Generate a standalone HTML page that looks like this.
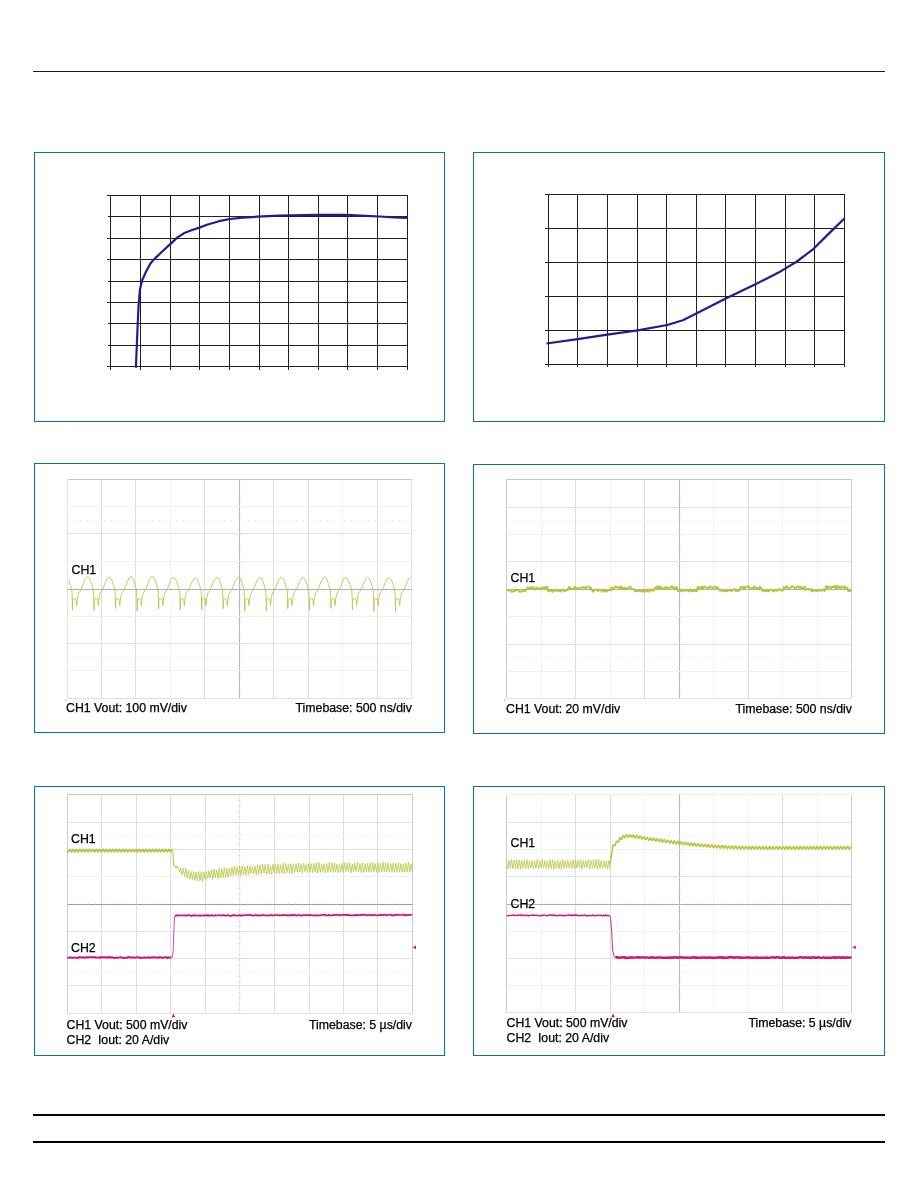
<!DOCTYPE html>
<html lang="en">
<head>
<meta charset="utf-8">
<title>Typical performance curves</title>
<style>
html,body{margin:0;padding:0;background:#fff}
body{width:918px;height:1188px;position:relative;overflow:hidden;font-family:"Liberation Sans",sans-serif;color:#111}
.rule{position:absolute;left:33px;width:852px;background:#000}
.panel{position:absolute;box-sizing:border-box;border:1px solid #0a70a8;background:#fff}
svg{position:absolute;left:0;top:0;display:block}
.t{position:absolute;font-size:12.3px;line-height:14px;white-space:pre;color:#000;-webkit-text-stroke:0.25px #000}
.r{text-align:right}
</style>
</head>
<body>
<div class="rule" style="top:71px;height:1px;background:#1a1a1a"></div>
<div class="rule" style="top:1114px;height:2px"></div>
<div class="rule" style="top:1141px;height:2px"></div>

<div class="panel" style="left:34px;top:152px;width:411px;height:270px">
<svg width="409" height="268" viewBox="35 153 409 268">
<g fill="#231f20" shape-rendering="crispEdges"><rect x="110" y="195" width="1" height="175"/><rect x="140" y="195" width="1" height="175"/><rect x="170" y="195" width="1" height="175"/><rect x="199" y="195" width="1" height="175"/><rect x="229" y="195" width="1" height="175"/><rect x="259" y="195" width="1" height="175"/><rect x="288" y="195" width="1" height="175"/><rect x="318" y="195" width="1" height="175"/><rect x="347" y="195" width="1" height="175"/><rect x="377" y="195" width="1" height="175"/><rect x="407" y="195" width="1" height="175"/><rect x="107" y="195" width="301" height="1"/><rect x="108" y="216" width="300" height="1"/><rect x="107" y="238" width="301" height="1"/><rect x="107" y="259" width="301" height="1"/><rect x="108" y="281" width="300" height="1"/><rect x="107" y="302" width="301" height="1"/><rect x="108" y="323" width="300" height="1"/><rect x="108" y="345" width="300" height="1"/><rect x="107" y="366" width="301" height="1"/></g>
<path d="M135.9 367.8 L136.7 348 L137.6 326.6 L138.6 305.1 L140 289.4 L141.9 280.8 L146.5 270.8 L150.8 262.9 L154.3 259.1 L162.2 251.5 L170.8 243.6 L177.2 237.6 L183.7 233.3 L192.2 230 L199.4 227.6 L207 224.8 L219 221.2 L229.8 219 L243 217.7 L257.3 216.7 L279 215.7 L317 214.8 L346 214.8 L360.5 215.6 L379.6 216.5 L394 217.4 L407.5 217.8" fill="none" stroke="#1e1e8c" stroke-width="2.2" stroke-linejoin="round"/>
</svg>
</div>
<div class="panel" style="left:473px;top:152px;width:412px;height:270px">
<svg width="410" height="268" viewBox="474 153 410 268">
<g fill="#231f20" shape-rendering="crispEdges"><rect x="548" y="194" width="1" height="173"/><rect x="577" y="194" width="1" height="173"/><rect x="607" y="194" width="1" height="173"/><rect x="637" y="194" width="1" height="173"/><rect x="666" y="194" width="1" height="173"/><rect x="696" y="194" width="1" height="173"/><rect x="725" y="194" width="1" height="173"/><rect x="755" y="194" width="1" height="173"/><rect x="785" y="194" width="1" height="173"/><rect x="814" y="194" width="1" height="173"/><rect x="844" y="194" width="1" height="173"/><rect x="545" y="194" width="300" height="1"/><rect x="545" y="228" width="300" height="1"/><rect x="545" y="262" width="300" height="1"/><rect x="545" y="296" width="300" height="1"/><rect x="545" y="330" width="300" height="1"/><rect x="545" y="364" width="300" height="1"/></g>
<path d="M546.5 343.5 L577.6 339.1 L607.3 334.6 L637.6 330.3 L667.2 325 L682.9 320.2 L696.8 313.3 L725.8 298.6 L755.4 284.3 L780.5 271.4 L796.2 262 L813.6 248.8 L829.3 233.1 L844.6 218.2" fill="none" stroke="#1e1e8c" stroke-width="2.2" stroke-linejoin="round"/>
</svg>
</div>
<div class="panel" style="left:34px;top:463px;width:411px;height:270px">
<svg width="409" height="268" viewBox="35 464 409 268">
<g stroke-width="1" fill="none"><line x1="67.5" y1="479.5" x2="67.5" y2="698.5" stroke="#e2e2e2"/><line x1="101.5" y1="479.5" x2="101.5" y2="698.5" stroke="#dedede"/><line x1="135.5" y1="479.5" x2="135.5" y2="698.5" stroke="#dedede"/><line x1="170.5" y1="479.5" x2="170.5" y2="698.5" stroke="#f3f3f3"/><line x1="204.5" y1="479.5" x2="204.5" y2="698.5" stroke="#dedede"/><line x1="239.5" y1="479.5" x2="239.5" y2="698.5" stroke="#b6b6b6"/><line x1="273.5" y1="479.5" x2="273.5" y2="698.5" stroke="#dedede"/><line x1="308.5" y1="479.5" x2="308.5" y2="698.5" stroke="#dedede"/><line x1="342.5" y1="479.5" x2="342.5" y2="698.5" stroke="#f3f3f3"/><line x1="377.5" y1="479.5" x2="377.5" y2="698.5" stroke="#dedede"/><line x1="411.5" y1="479.5" x2="411.5" y2="698.5" stroke="#e2e2e2"/><line x1="67.5" y1="479.5" x2="411.5" y2="479.5" stroke="#c6c6c6"/><line x1="67.5" y1="506.5" x2="411.5" y2="506.5" stroke="#f1f1f1"/><line x1="67.5" y1="533.5" x2="411.5" y2="533.5" stroke="#e0e0e0"/><line x1="67.5" y1="561.5" x2="411.5" y2="561.5" stroke="#f1f1f1"/><line x1="67.5" y1="589.5" x2="411.5" y2="589.5" stroke="#b0b0b0"/><line x1="67.5" y1="616.5" x2="411.5" y2="616.5" stroke="#f1f1f1"/><line x1="67.5" y1="643.5" x2="411.5" y2="643.5" stroke="#e0e0e0"/><line x1="67.5" y1="670.5" x2="411.5" y2="670.5" stroke="#f1f1f1"/><line x1="67.5" y1="698.5" x2="411.5" y2="698.5" stroke="#e0e0e0"/><line x1="73.5" y1="520.5" x2="405.5" y2="520.5" stroke="#f2f2f2" stroke-dasharray="3 3"/><line x1="73.5" y1="657.5" x2="405.5" y2="657.5" stroke="#f2f2f2" stroke-dasharray="3 3"/><line x1="239.5" y1="479.5" x2="239.5" y2="698.5" stroke="#c8c8c8" stroke-width="2.2" stroke-dasharray="0.8 4.7"/><line x1="67.5" y1="589.5" x2="411.5" y2="589.5" stroke="#c4c4c4" stroke-width="2.2" stroke-dasharray="0.8 6.1"/></g>
<circle cx="65.7" cy="700.1" r="0.9" fill="#c3cf5a"/>
<path d="M68.9 580.1 L70.6 585.7 L71.8 589.6 L72.2 596 L72.5 610.2 L72.8 600 L73.2 599 L74.6 598.6 L76.1 599.2 L76.7 605.6 L77.4 599 L78 595.5 L78.7 593 L80 591.4 L82 587.4 L84.6 580.2 L86.2 577.6 L87.5 576.8 L89 577.8 L90.4 580.3 L92.1 585.7 L93.3 589.6 L93.7 596 L94 610.4 L94.3 600 L94.7 599 L96.1 598.6 L97.6 599.2 L98.3 605.6 L98.9 599 L99.6 595.5 L100.2 593 L101.5 591.4 L103.5 587.4 L106.1 580.4 L107.7 577.8 L109 577.2 L110.5 578.2 L112 580.7 L113.6 585.7 L114.8 589.6 L115.3 596 L115.6 608.5 L115.9 600 L116.2 599 L117.6 598.6 L119.1 599.2 L119.8 605.6 L120.4 599 L121.1 595.5 L121.7 593 L123 591.4 L125.1 587.4 L127.7 580.8 L129.3 578.2 L130.6 576.2 L132.1 577.2 L133.5 579.7 L135.1 585.7 L136.4 589.6 L136.8 596 L137.1 611.2 L137.4 600 L137.8 599 L139.2 598.6 L140.7 599.2 L141.3 605.6 L142 599 L142.6 595.5 L143.3 593 L144.6 591.4 L146.6 587.4 L149.2 579.8 L150.8 577.2 L152.1 576.6 L153.6 577.6 L155 580.1 L156.7 585.7 L157.9 589.6 L158.3 596 L158.6 609.1 L158.9 600 L159.3 599 L160.7 598.6 L162.2 599.2 L162.9 605.6 L163.5 599 L164.1 595.5 L164.8 593 L166.1 591.4 L168.1 587.4 L170.7 580.2 L172.3 577.6 L173.6 577.8 L175.1 578.8 L176.6 581.3 L178.2 585.7 L179.4 589.6 L179.9 596 L180.2 609.9 L180.5 600 L180.8 599 L182.2 598.6 L183.7 599.2 L184.4 605.6 L185 599 L185.7 595.5 L186.3 593 L187.6 591.4 L189.7 587.4 L192.3 581.4 L193.9 578.8 L195.2 577.5 L196.7 578.5 L198.1 581 L199.7 585.7 L201 589.6 L201.4 596 L201.7 610 L202 600 L202.3 599 L203.8 598.6 L205.3 599.2 L205.9 605.6 L206.6 599 L207.2 595.5 L207.9 593 L209.1 591.4 L211.2 587.4 L213.8 581.1 L215.4 578.5 L216.7 577.2 L218.2 578.2 L219.6 580.7 L221.3 585.7 L222.5 589.6 L222.9 596 L223.2 608.8 L223.5 600 L223.9 599 L225.3 598.6 L226.8 599.2 L227.4 605.6 L228.1 599 L228.7 595.5 L229.4 593 L230.7 591.4 L232.7 587.4 L235.3 580.8 L236.9 578.2 L238.2 577.2 L239.7 578.2 L241.2 580.7 L242.8 585.7 L244 589.6 L244.5 596 L244.8 611.3 L245.1 600 L245.4 599 L246.8 598.6 L248.3 599.2 L249 605.6 L249.6 599 L250.3 595.5 L250.9 593 L252.2 591.4 L254.2 587.4 L256.9 580.8 L258.4 578.2 L259.7 577 L261.2 578 L262.7 580.5 L264.3 585.7 L265.6 589.6 L266 596 L266.3 610.9 L266.6 600 L266.9 599 L268.4 598.6 L269.9 599.2 L270.5 605.6 L271.2 599 L271.8 595.5 L272.4 593 L273.7 591.4 L275.8 587.4 L278.4 580.6 L280 578 L281.3 577.3 L282.8 578.3 L284.2 580.8 L285.9 585.7 L287.1 589.6 L287.5 596 L287.8 608.5 L288.1 600 L288.5 599 L289.9 598.6 L291.4 599.2 L292 605.6 L292.7 599 L293.3 595.5 L294 593 L295.3 591.4 L297.3 587.4 L299.9 580.9 L301.5 578.3 L302.8 577.4 L304.3 578.4 L305.7 580.9 L307.4 585.7 L308.6 589.6 L309 596 L309.3 610.4 L309.6 600 L310 599 L311.4 598.6 L312.9 599.2 L313.6 605.6 L314.2 599 L314.9 595.5 L315.5 593 L316.8 591.4 L318.8 587.4 L321.4 581 L323 578.4 L324.3 576.7 L325.8 577.7 L327.3 580.2 L328.9 585.7 L330.1 589.6 L330.6 596 L330.9 608.4 L331.2 600 L331.5 599 L332.9 598.6 L334.4 599.2 L335.1 605.6 L335.7 599 L336.4 595.5 L337 593 L338.3 591.4 L340.4 587.4 L343 580.3 L344.6 577.7 L345.9 577.6 L347.4 578.6 L348.8 581.1 L350.4 585.7 L351.7 589.6 L352.1 596 L352.4 610 L352.7 600 L353.1 599 L354.5 598.6 L356 599.2 L356.6 605.6 L357.3 599 L357.9 595.5 L358.6 593 L359.9 591.4 L361.9 587.4 L364.5 581.2 L366.1 578.6 L367.4 577.4 L368.9 578.4 L370.3 580.9 L372 585.7 L373.2 589.6 L373.6 596 L373.9 611.4 L374.2 600 L374.6 599 L376 598.6 L377.5 599.2 L378.2 605.6 L378.8 599 L379.4 595.5 L380.1 593 L381.4 591.4 L383.4 587.4 L386 581 L387.6 578.4 L388.9 577.3 L390.4 578.3 L391.9 580.8 L393.5 585.7 L394.7 589.6 L395.2 596 L395.5 611.5 L395.8 600 L396.1 599 L397.5 598.6 L399 599.2 L399.7 605.6 L400.3 599 L401 595.5 L401.6 593 L402.9 591.4 L405 587.4 L407.6 580.9 L409.2 578.3 L410.5 576.8" fill="none" stroke="#bac746" stroke-width="1" stroke-linejoin="round" opacity="0.9"/>
</svg>
<div class="t" style="left:36.5px;top:98.8px;">CH1</div>
<div class="t" style="left:31px;top:237.4px;">CH1 Vout: 100 mV/div</div>
<div class="t r" style="right:32px;top:237.4px;">Timebase: 500 ns/div</div>
</div>
<div class="panel" style="left:473px;top:464px;width:412px;height:270px">
<svg width="410" height="268" viewBox="474 465 410 268">
<g stroke-width="1" fill="none"><line x1="506.5" y1="479.5" x2="506.5" y2="698.5" stroke="#cecece"/><line x1="541.5" y1="479.5" x2="541.5" y2="698.5" stroke="#f3f3f3"/><line x1="575.5" y1="479.5" x2="575.5" y2="698.5" stroke="#dedede"/><line x1="610.5" y1="479.5" x2="610.5" y2="698.5" stroke="#f3f3f3"/><line x1="644.5" y1="479.5" x2="644.5" y2="698.5" stroke="#dedede"/><line x1="679.5" y1="479.5" x2="679.5" y2="698.5" stroke="#b6b6b6"/><line x1="713.5" y1="479.5" x2="713.5" y2="698.5" stroke="#f3f3f3"/><line x1="748.5" y1="479.5" x2="748.5" y2="698.5" stroke="#dedede"/><line x1="782.5" y1="479.5" x2="782.5" y2="698.5" stroke="#f3f3f3"/><line x1="817.5" y1="479.5" x2="817.5" y2="698.5" stroke="#f3f3f3"/><line x1="851.5" y1="479.5" x2="851.5" y2="698.5" stroke="#cecece"/><line x1="506.5" y1="479.5" x2="851.5" y2="479.5" stroke="#c6c6c6"/><line x1="506.5" y1="507.5" x2="851.5" y2="507.5" stroke="#e0e0e0"/><line x1="506.5" y1="534.5" x2="851.5" y2="534.5" stroke="#f1f1f1"/><line x1="506.5" y1="561.5" x2="851.5" y2="561.5" stroke="#e0e0e0"/><line x1="506.5" y1="589.5" x2="851.5" y2="589.5" stroke="#b0b0b0"/><line x1="506.5" y1="616.5" x2="851.5" y2="616.5" stroke="#f1f1f1"/><line x1="506.5" y1="644.5" x2="851.5" y2="644.5" stroke="#e0e0e0"/><line x1="506.5" y1="671.5" x2="851.5" y2="671.5" stroke="#f1f1f1"/><line x1="506.5" y1="698.5" x2="851.5" y2="698.5" stroke="#e0e0e0"/><line x1="512.5" y1="520.5" x2="845.5" y2="520.5" stroke="#f2f2f2" stroke-dasharray="3 3"/><line x1="512.5" y1="657.5" x2="845.5" y2="657.5" stroke="#f2f2f2" stroke-dasharray="3 3"/><line x1="679.5" y1="479.5" x2="679.5" y2="698.5" stroke="#c8c8c8" stroke-width="2.2" stroke-dasharray="0.8 4.7"/><line x1="506.5" y1="589.5" x2="851.5" y2="589.5" stroke="#c4c4c4" stroke-width="2.2" stroke-dasharray="0.8 6.1"/></g>
<circle cx="504.7" cy="700.1" r="0.9" fill="#c3cf5a"/>
<path d="M506.5 590.3 L507.4 589.9 L508.2 590.6 L509.1 590.1 L509.9 589.9 L510.8 590.7 L511.6 591.9 L512.5 591.6 L513.3 591.5 L514.2 590.2 L515 591 L515.9 590.3 L516.7 590.1 L517.6 589.9 L518.4 590.2 L519.3 591.9 L520.1 591.7 L521 591.6 L521.8 591.6 L522.7 590.1 L523.5 590.4 L524.4 591.2 L525.2 591.4 L526.1 589.1 L526.9 589.1 L527.8 587 L528.6 588.4 L529.5 588.6 L530.3 588.1 L531.2 587.2 L532 588 L532.9 587 L533.7 589.3 L534.6 589.1 L535.4 588.2 L536.3 587.5 L537.1 589.2 L538 588.3 L538.8 589.1 L539.7 589 L540.5 588.1 L541.4 587.8 L542.2 588.3 L543.1 587.9 L543.9 587.1 L544.8 587.5 L545.6 588.9 L546.5 586.8 L547.3 586.8 L548.2 591.1 L549 590.3 L549.9 590.9 L550.7 590.7 L551.6 590.4 L552.4 592 L553.3 590 L554.1 590.6 L555 590.1 L555.8 591.1 L556.7 590.2 L557.5 590.4 L558.4 591.4 L559.2 590.3 L560.1 590.9 L560.9 591.7 L561.8 589.8 L562.6 589.7 L563.5 590.1 L564.3 591.4 L565.2 591 L566 590.1 L566.9 590.3 L567.7 590 L568.6 587.9 L569.4 586.8 L570.3 588.5 L571.1 589.1 L572 589.2 L572.8 588.6 L573.7 589.2 L574.5 586.7 L575.4 587.4 L576.2 589.2 L577.1 588.7 L577.9 587.7 L578.8 589.2 L579.6 588.3 L580.5 588.8 L581.3 587.4 L582.2 587.1 L583 587.8 L583.9 587 L584.7 587.6 L585.6 589.2 L586.4 587.5 L587.3 586.6 L588.1 586.7 L589 587 L589.8 588.7 L590.7 587.6 L591.5 590.2 L592.4 589.7 L593.2 591.8 L594.1 590.5 L594.9 590 L595.8 589.6 L596.6 589.6 L597.5 589.9 L598.3 591.1 L599.2 589.8 L600 589.6 L600.9 590.6 L601.7 590 L602.6 591.8 L603.4 589.7 L604.3 590.7 L605.1 591.3 L606 590.4 L606.8 591.8 L607.7 590.6 L608.5 590 L609.4 590.4 L610.2 589.5 L611.1 590.4 L611.9 587.2 L612.8 588.9 L613.6 588.8 L614.5 587.9 L615.3 586.6 L616.2 587.2 L617 587.2 L617.9 587.1 L618.7 587.1 L619.6 588.9 L620.4 586.9 L621.3 586.6 L622.1 589 L623 588 L623.8 589.2 L624.7 587.6 L625.5 588.9 L626.4 588.3 L627.2 588.6 L628.1 588.5 L628.9 587.8 L629.8 586.7 L630.6 587 L631.5 588.8 L632.3 588.9 L633.2 589 L634 590.2 L634.9 590.9 L635.7 591.3 L636.6 590.9 L637.4 591.3 L638.3 590.6 L639.1 590.9 L640 591 L640.8 590 L641.7 591.6 L642.5 591.6 L643.4 589.5 L644.2 591.7 L645.1 591.6 L645.9 590.9 L646.8 589.4 L647.6 591.5 L648.5 589.6 L649.3 591.7 L650.2 590.9 L651 589.5 L651.9 589.7 L652.7 590.8 L653.6 590.7 L654.4 588.4 L655.3 588.9 L656.1 587 L657 586.4 L657.8 588.9 L658.7 586.4 L659.5 588.8 L660.4 586.7 L661.2 588.6 L662.1 588.5 L662.9 588.8 L663.8 587.9 L664.6 588.8 L665.5 586.9 L666.3 588.2 L667.2 587.3 L668 588.8 L668.9 588.5 L669.7 587.6 L670.6 587.8 L671.4 586.4 L672.3 586.5 L673.1 588 L674 587.7 L674.8 588.7 L675.7 588 L676.5 586.7 L677.4 590.1 L678.2 591.1 L679.1 590.5 L679.9 589.3 L680.8 591.3 L681.6 591.2 L682.5 589.4 L683.3 590.5 L684.2 590.2 L685 591.1 L685.9 590 L686.7 589.8 L687.6 590.4 L688.4 591.5 L689.3 589.5 L690.1 589.5 L691 590.7 L691.8 591.3 L692.7 590.4 L693.5 590.3 L694.4 591.3 L695.2 591.1 L696.1 589.4 L696.9 591.3 L697.8 586.8 L698.6 587.1 L699.5 588.6 L700.3 587.4 L701.2 588.4 L702 586.7 L702.9 588.6 L703.7 586.8 L704.6 586.7 L705.4 587.6 L706.3 587.2 L707.1 587.7 L708 588.7 L708.8 588.2 L709.7 586.3 L710.5 587.1 L711.4 587.7 L712.2 587.6 L713.1 588.2 L713.9 587.6 L714.8 586.5 L715.6 586.9 L716.5 588.5 L717.3 587.2 L718.2 588.3 L719 588.9 L719.9 590.6 L720.7 590.8 L721.6 590.6 L722.4 589.9 L723.3 591.3 L724.1 590.3 L725 591.3 L725.8 589.9 L726.7 591.2 L727.5 591 L728.4 590.6 L729.2 590.2 L730.1 589.5 L730.9 591 L731.8 590 L732.6 590.7 L733.5 589.4 L734.3 589.3 L735.2 589.4 L736 591 L736.9 589.5 L737.7 591.3 L738.6 590 L739.4 590.5 L740.3 587.1 L741.1 587.9 L742 586.4 L742.8 587.3 L743.7 588.7 L744.5 586.7 L745.4 587.9 L746.2 587.1 L747.1 587 L747.9 586.2 L748.8 586.2 L749.6 588.7 L750.5 588.4 L751.3 588.3 L752.2 588.3 L753 588.7 L753.9 586.6 L754.7 587.7 L755.6 587.5 L756.4 587.7 L757.3 588.7 L758.1 588.2 L759 588.8 L759.8 586.5 L760.7 587.9 L761.5 588 L762.4 590.8 L763.2 590.5 L764.1 591 L764.9 589.8 L765.8 591.3 L766.6 590 L767.5 590.5 L768.3 591.2 L769.2 590.7 L770 589.8 L770.9 589.6 L771.7 589.8 L772.6 590.5 L773.4 591.4 L774.3 591.2 L775.1 590 L776 590 L776.8 591 L777.7 589.7 L778.5 590 L779.4 589 L780.2 589.4 L781.1 590.3 L781.9 590.6 L782.8 590.5 L783.6 587.1 L784.5 588.6 L785.3 587.8 L786.2 586.5 L787 586.3 L787.9 588.7 L788.7 588.7 L789.6 588.5 L790.4 587.7 L791.3 586.9 L792.1 586.3 L793 586.7 L793.8 586.7 L794.7 588.6 L795.5 588.5 L796.4 588.1 L797.2 586.4 L798.1 586.7 L798.9 586.8 L799.8 588.6 L800.6 586.5 L801.5 588.2 L802.3 587.9 L803.2 587.5 L804 588.6 L804.9 586.7 L805.7 590.2 L806.6 589.3 L807.4 589.1 L808.3 589 L809.1 589.7 L810 589.2 L810.8 589.1 L811.7 591.3 L812.5 589.6 L813.4 591 L814.2 590.6 L815.1 590.7 L815.9 590.5 L816.8 591.2 L817.6 591 L818.5 590.6 L819.3 590.2 L820.2 590.5 L821 590.6 L821.9 590.2 L822.7 590.1 L823.6 589.2 L824.4 590.9 L825.3 590 L826.1 586.1 L827 586.4 L827.8 588.3 L828.7 586.7 L829.5 587 L830.4 587.8 L831.2 588.3 L832.1 586.8 L832.9 587 L833.8 587.1 L834.6 586 L835.5 588.3 L836.3 586 L837.2 588.5 L838 586.3 L838.9 586.4 L839.7 588.2 L840.6 588.2 L841.4 586.6 L842.3 587.4 L843.1 587.2 L844 587.9 L844.8 586.4 L845.7 588.1 L846.5 588.6 L847.4 587.8 L848.2 591 L849.1 591.1 L849.9 589.7 L850.8 590.8 L851.6 590.8" fill="none" stroke="#b7c43c" stroke-width="1.9" stroke-linejoin="round"/>
</svg>
<div class="t" style="left:36.5px;top:106.3px;">CH1</div>
<div class="t" style="left:32px;top:237.4px;">CH1 Vout: 20 mV/div</div>
<div class="t r" style="right:32px;top:237.4px;">Timebase: 500 ns/div</div>
</div>
<div class="panel" style="left:34px;top:786px;width:411px;height:270px">
<svg width="409" height="268" viewBox="35 787 409 268">
<g stroke-width="1" fill="none"><line x1="67.5" y1="794.5" x2="67.5" y2="1013.5" stroke="#cccccc"/><line x1="101.5" y1="794.5" x2="101.5" y2="1013.5" stroke="#dedede"/><line x1="136.5" y1="794.5" x2="136.5" y2="1013.5" stroke="#dedede"/><line x1="170.5" y1="794.5" x2="170.5" y2="1013.5" stroke="#dedede"/><line x1="205.5" y1="794.5" x2="205.5" y2="1013.5" stroke="#dedede"/><line x1="239.5" y1="794.5" x2="239.5" y2="1013.5" stroke="#ececec"/><line x1="274.5" y1="794.5" x2="274.5" y2="1013.5" stroke="#dedede"/><line x1="309.5" y1="794.5" x2="309.5" y2="1013.5" stroke="#dedede"/><line x1="343.5" y1="794.5" x2="343.5" y2="1013.5" stroke="#dedede"/><line x1="377.5" y1="794.5" x2="377.5" y2="1013.5" stroke="#dedede"/><line x1="412.5" y1="794.5" x2="412.5" y2="1013.5" stroke="#cccccc"/><line x1="67.5" y1="794.5" x2="412.5" y2="794.5" stroke="#c6c6c6"/><line x1="67.5" y1="822.5" x2="412.5" y2="822.5" stroke="#e0e0e0"/><line x1="67.5" y1="849.5" x2="412.5" y2="849.5" stroke="#e0e0e0"/><line x1="67.5" y1="876.5" x2="412.5" y2="876.5" stroke="#f1f1f1"/><line x1="67.5" y1="904.5" x2="412.5" y2="904.5" stroke="#9a9a9a"/><line x1="67.5" y1="931.5" x2="412.5" y2="931.5" stroke="#e0e0e0"/><line x1="67.5" y1="958.5" x2="412.5" y2="958.5" stroke="#e0e0e0"/><line x1="67.5" y1="985.5" x2="412.5" y2="985.5" stroke="#e0e0e0"/><line x1="67.5" y1="1013.5" x2="412.5" y2="1013.5" stroke="#e0e0e0"/><line x1="107.5" y1="835.5" x2="406.5" y2="835.5" stroke="#f2f2f2" stroke-dasharray="3 3"/><line x1="73.5" y1="972.5" x2="406.5" y2="972.5" stroke="#f2f2f2" stroke-dasharray="3 3"/><line x1="239.5" y1="794.5" x2="239.5" y2="1013.5" stroke="#c8c8c8" stroke-width="2.2" stroke-dasharray="0.8 4.7"/><line x1="67.5" y1="904.5" x2="412.5" y2="904.5" stroke="#c4c4c4" stroke-width="2.2" stroke-dasharray="0.8 6.1"/></g>
<path d="M67.5 850.6 L67.9 851.5 L68.3 851.9 L68.7 851.5 L69.1 850.6 L69.5 849.7 L70 849.3 L70.4 849.7 L70.8 850.6 L71.2 851.5 L71.6 851.9 L72 851.6 L72.4 850.7 L72.8 849.7 L73.2 849.3 L73.6 849.6 L74.1 850.5 L74.5 851.4 L74.9 851.9 L75.3 851.6 L75.7 850.7 L76.1 849.8 L76.5 849.3 L76.9 849.6 L77.3 850.5 L77.7 851.4 L78.2 851.9 L78.6 851.6 L79 850.8 L79.4 849.8 L79.8 849.3 L80.2 849.6 L80.6 850.4 L81 851.4 L81.4 851.9 L81.8 851.7 L82.3 850.8 L82.7 849.9 L83.1 849.3 L83.5 849.5 L83.9 850.4 L84.3 851.3 L84.7 851.9 L85.1 851.7 L85.5 850.9 L85.9 849.9 L86.4 849.3 L86.8 849.5 L87.2 850.3 L87.6 851.3 L88 851.9 L88.4 851.7 L88.8 850.9 L89.2 849.9 L89.6 849.3 L90 849.5 L90.5 850.3 L90.9 851.2 L91.3 851.9 L91.7 851.7 L92.1 851 L92.5 850 L92.9 849.4 L93.3 849.5 L93.7 850.2 L94.1 851.2 L94.6 851.8 L95 851.8 L95.4 851 L95.8 850 L96.2 849.4 L96.6 849.4 L97 850.2 L97.4 851.2 L97.8 851.8 L98.2 851.8 L98.7 851.1 L99.1 850.1 L99.5 849.4 L99.9 849.4 L100.3 850.1 L100.7 851.1 L101.1 851.8 L101.5 851.8 L101.9 851.1 L102.3 850.1 L102.8 849.4 L103.2 849.4 L103.6 850.1 L104 851.1 L104.4 851.8 L104.8 851.8 L105.2 851.2 L105.6 850.2 L106 849.4 L106.4 849.4 L106.9 850 L107.3 851 L107.7 851.8 L108.1 851.8 L108.5 851.2 L108.9 850.2 L109.3 849.5 L109.7 849.4 L110.1 850 L110.5 851 L111 851.7 L111.4 851.9 L111.8 851.2 L112.2 850.3 L112.6 849.5 L113 849.3 L113.4 849.9 L113.8 850.9 L114.2 851.7 L114.6 851.9 L115.1 851.3 L115.5 850.3 L115.9 849.5 L116.3 849.3 L116.7 849.9 L117.1 850.9 L117.5 851.7 L117.9 851.9 L118.3 851.3 L118.7 850.4 L119.2 849.5 L119.6 849.3 L120 849.9 L120.4 850.8 L120.8 851.7 L121.2 851.9 L121.6 851.4 L122 850.4 L122.4 849.6 L122.8 849.3 L123.3 849.8 L123.7 850.8 L124.1 851.6 L124.5 851.9 L124.9 851.4 L125.3 850.5 L125.7 849.6 L126.1 849.3 L126.5 849.8 L126.9 850.7 L127.4 851.6 L127.8 851.9 L128.2 851.4 L128.6 850.5 L129 849.6 L129.4 849.3 L129.8 849.7 L130.2 850.7 L130.6 851.6 L131 851.9 L131.5 851.5 L131.9 850.6 L132.3 849.7 L132.7 849.3 L133.1 849.7 L133.5 850.6 L133.9 851.5 L134.3 851.9 L134.7 851.5 L135.1 850.6 L135.6 849.7 L136 849.3 L136.4 849.7 L136.8 850.6 L137.2 851.5 L137.6 851.9 L138 851.5 L138.4 850.6 L138.8 849.7 L139.2 849.3 L139.7 849.6 L140.1 850.5 L140.5 851.5 L140.9 851.9 L141.3 851.6 L141.7 850.7 L142.1 849.8 L142.5 849.3 L142.9 849.6 L143.3 850.5 L143.8 851.4 L144.2 851.9 L144.6 851.6 L145 850.7 L145.4 849.8 L145.8 849.3 L146.2 849.6 L146.6 850.4 L147 851.4 L147.4 851.9 L147.9 851.6 L148.3 850.8 L148.7 849.8 L149.1 849.3 L149.5 849.5 L149.9 850.4 L150.3 851.3 L150.7 851.9 L151.1 851.7 L151.5 850.8 L152 849.9 L152.4 849.3 L152.8 849.5 L153.2 850.3 L153.6 851.3 L154 851.9 L154.4 851.7 L154.8 850.9 L155.2 849.9 L155.6 849.3 L156.1 849.5 L156.5 850.3 L156.9 851.3 L157.3 851.9 L157.7 851.7 L158.1 850.9 L158.5 850 L158.9 849.3 L159.3 849.5 L159.7 850.2 L160.2 851.2 L160.6 851.8 L161 851.7 L161.4 851 L161.8 850 L162.2 849.4 L162.6 849.4 L163 850.2 L163.4 851.2 L163.8 851.8 L164.3 851.8 L164.7 851 L165.1 850 L165.5 849.4 L165.9 849.4 L166.3 850.1 L166.7 851.1 L167.1 851.8 L167.5 851.8 L167.9 851.1 L168.4 850.1 L168.8 849.4 L169.2 849.4 L169.6 850.1 L170 851.1 L170.4 851.8 L170.8 851.8 L171.2 851.1 L171.6 850.1 L172 849.4 L172.5 849.4" fill="none" stroke="#b7c43c" stroke-width="1.6" stroke-linejoin="round"/>
<path d="M172.8 851 L173.3 860 L173.8 866 L174.8 865.6 L175.6 867.6 L176.5 866 L177.4 868.2" fill="none" stroke="#b7c43c" stroke-width="1" stroke-linejoin="round"/>
<path d="M177.4 868.2 L178.2 866.9 L179.5 872.3 L180.8 867.9 L182 874.9 L183.3 868.5 L184.6 877.1 L185.9 867.8 L187.2 877.9 L188.4 870.6 L189.7 879.4 L191 871.5 L192.3 879.3 L193.6 871.5 L194.8 880.2 L196.1 872.2 L197.4 881.2 L198.7 871.5 L200 880.7 L201.2 871.7 L202.5 881.4 L203.8 872.1 L205.1 879.5 L206.4 871.6 L207.6 879 L208.9 870.8 L210.2 878.5 L211.5 869.2 L212.8 879.4 L214 869.2 L215.3 877.8 L216.6 870.2 L217.9 878.6 L219.2 868.5 L220.4 878.4 L221.7 868.6 L223 877.5 L224.3 867.7 L225.6 877.7 L226.8 868.3 L228.1 877.4 L229.4 868.3 L230.7 875.9 L232 867.1 L233.2 875.4 L234.5 866.4 L235.8 875 L237.1 866.5 L238.4 875.7 L239.6 865.7 L240.9 875.6 L242.2 866.1 L243.5 874.7 L244.8 866.7 L246 874.8 L247.3 865.6 L248.6 874.7 L249.9 866.2 L251.2 873.7 L252.4 866.5 L253.7 873.5 L255 865.9 L256.3 874.8 L257.6 864.4 L258.8 874.6 L260.1 864.9 L261.4 874 L262.7 864.2 L264 873 L265.2 864.3 L266.5 874.5 L267.8 864.2 L269.1 874 L270.4 865.5 L271.6 874.2 L272.9 864.3 L274.2 873.1 L275.5 864.5 L276.8 873.7 L278 863.7 L279.3 873.6 L280.6 864.8 L281.9 873.7 L283.2 863.4 L284.4 873.8 L285.7 863.4 L287 872.6 L288.3 864.3 L289.6 873.6 L290.8 863.7 L292.1 873.5 L293.4 864 L294.7 872.4 L296 863.5 L297.2 872.1 L298.5 863.1 L299.8 872 L301.1 864.1 L302.4 873.4 L303.6 863.1 L304.9 871.7 L306.2 864.5 L307.5 872.5 L308.8 863.4 L310 871.9 L311.3 863.7 L312.6 872.9 L313.9 863.5 L315.2 872.2 L316.4 862.7 L317.7 873 L319 862.6 L320.3 872.2 L321.6 864 L322.8 871.5 L324.1 863.8 L325.4 873 L326.7 863.6 L328 872.7 L329.2 862.6 L330.5 872 L331.8 862.7 L333.1 872.7 L334.4 862.9 L335.6 872 L336.9 864.2 L338.2 872.7 L339.5 864.1 L340.8 871.9 L342 863.2 L343.3 872.4 L344.6 863.2 L345.9 871.6 L347.2 863 L348.4 871.3 L349.7 862.9 L351 872.8 L352.3 864 L353.6 872.2 L354.8 863.1 L356.1 871.6 L357.4 862.4 L358.7 871.5 L360 863.6 L361.2 872.6 L362.5 862.8 L363.8 872.4 L365.1 863.6 L366.4 872.2 L367.6 863.4 L368.9 872.3 L370.2 862.8 L371.5 872.2 L372.8 862.7 L374 871.8 L375.3 863.5 L376.6 872.2 L377.9 862.7 L379.2 872.6 L380.4 863.3 L381.7 872 L383 862.1 L384.3 871.9 L385.6 862.6 L386.8 872.1 L388.1 862.9 L389.4 872.4 L390.7 863.3 L392 872.3 L393.2 862.7 L394.5 872.1 L395.8 863.4 L397.1 872.4 L398.4 862.7 L399.6 872.4 L400.9 863.6 L402.2 872.1 L403.5 863.8 L404.8 872.6 L406 863 L407.3 871.8 L408.6 862.4 L409.9 872.4 L411.2 863.7 L412.4 871.7" fill="none" stroke="#b7c43c" stroke-width="0.9" stroke-linejoin="round" opacity="0.85"/>
<path d="M67.5 957.7 L68.5 957.7 L69.5 957.7 L70.5 957.2 L71.5 957.8 L72.5 957.6 L73.5 957.7 L74.5 957.4 L75.5 957.6 L76.5 957.8 L77.5 957.6 L78.5 957.7 L79.5 957 L80.5 957.2 L81.5 957.4 L82.5 957.7 L83.5 957.2 L84.5 957.7 L85.5 957.6 L86.5 957 L87.5 957.5 L88.5 957.2 L89.5 957.1 L90.5 957.1 L91.5 957.3 L92.5 957.2 L93.5 957.2 L94.5 957 L95.5 957.5 L96.5 957.4 L97.5 957.6 L98.5 957.6 L99.5 957.2 L100.5 957.9 L101.5 957 L102.5 957.4 L103.5 957.3 L104.5 957.4 L105.5 957.1 L106.5 957.8 L107.5 957.4 L108.5 957 L109.5 957.6 L110.5 957.1 L111.5 957.5 L112.5 957.3 L113.5 957.6 L114.5 958 L115.5 957.8 L116.5 957.4 L117.5 957.8 L118.5 957.6 L119.5 957.4 L120.5 957.1 L121.5 957.6 L122.5 957.6 L123.5 958 L124.5 958 L125.5 957.6 L126.5 957.4 L127.5 957.9 L128.5 957 L129.5 957.1 L130.5 957.6 L131.5 957.6 L132.5 957.1 L133.5 957.6 L134.5 957.9 L135.5 957.4 L136.5 957.4 L137.5 957.2 L138.5 957.3 L139.5 958 L140.5 957.4 L141.5 958 L142.5 957.9 L143.5 957.6 L144.5 957.3 L145.5 958 L146.5 957.5 L147.5 957.4 L148.5 957.3 L149.5 958 L150.5 957.5 L151.5 957.3 L152.5 957.5 L153.5 957.1 L154.5 957.6 L155.5 957.4 L156.5 957.3 L157.5 957.8 L158.5 957.8 L159.5 957 L160.5 957.5 L161.5 957.3 L162.5 957.9 L163.5 957.8 L164.5 957.2 L165.5 957.3 L166.5 957.2 L167.5 958 L168.5 957.3 L169.5 957.6 L170.5 957.5 L171.5 957.6" fill="none" stroke="#d4146e" stroke-width="1.9" stroke-linejoin="round"/>
<path d="M172.3 957.5 L173.2 950 L174.3 920 L175 915.4" fill="none" stroke="#d4146e" stroke-width="0.9" opacity="0.85"/>
<path d="M175 915.6 L176 915.7 L177 915.1 L178 915.8 L179 915.3 L180 915.5 L181 915.3 L182 915.3 L183 915.5 L184 915.4 L185 915.3 L186 915.7 L187 915.6 L188 915 L189 915.2 L190 915.4 L191 915.9 L192 915.9 L193 915.5 L194 915 L195 915.7 L196 915.4 L197 915.5 L198 915.7 L199 915.6 L200 915.4 L201 915.9 L202 915.3 L203 915.3 L204 915.8 L205 915.1 L206 915.2 L207 915.8 L208 915 L209 915.8 L210 915.6 L211 915.4 L212 915.2 L213 915.7 L214 915.8 L215 915.1 L216 915.4 L217 915.5 L218 915.4 L219 915.2 L220 915.1 L221 915.5 L222 915.7 L223 915 L224 915.1 L225 915.7 L226 915.7 L227 915.6 L228 914.9 L229 915.6 L230 915.9 L231 915.9 L232 915.6 L233 914.9 L234 915.7 L235 915.1 L236 915.5 L237 915.8 L238 915.6 L239 915 L240 915.2 L241 915.8 L242 915 L243 915.5 L244 915.3 L245 915 L246 915.5 L247 914.9 L248 915 L249 915.2 L250 914.9 L251 914.9 L252 915.4 L253 915.6 L254 915.7 L255 915 L256 915.3 L257 915.2 L258 915.4 L259 915.3 L260 915.8 L261 915.2 L262 914.9 L263 915.5 L264 915 L265 915.5 L266 915.3 L267 915.7 L268 915.4 L269 915.4 L270 915.1 L271 915.4 L272 915.1 L273 915.6 L274 915.3 L275 914.9 L276 915 L277 915.2 L278 915.5 L279 915 L280 915.5 L281 915.4 L282 914.9 L283 915.5 L284 914.9 L285 914.9 L286 915.4 L287 915 L288 915.7 L289 915.3 L290 915.1 L291 915.6 L292 914.8 L293 915.5 L294 914.8 L295 914.9 L296 915.7 L297 915.4 L298 915 L299 914.9 L300 915.7 L301 915.4 L302 915.6 L303 914.9 L304 915.4 L305 915.1 L306 915 L307 915.1 L308 915.3 L309 915.1 L310 915.1 L311 914.9 L312 915.6 L313 915.4 L314 915.5 L315 915.2 L316 915.6 L317 915.2 L318 915.3 L319 915.3 L320 915.5 L321 915.1 L322 914.8 L323 914.7 L324 914.9 L325 914.7 L326 915.6 L327 915.2 L328 915.5 L329 914.7 L330 915.2 L331 915.6 L332 915.3 L333 915.1 L334 915.1 L335 914.8 L336 914.8 L337 914.8 L338 915.1 L339 915.1 L340 915.6 L341 914.8 L342 914.9 L343 914.9 L344 914.8 L345 914.9 L346 914.9 L347 915.1 L348 914.7 L349 915.6 L350 915 L351 915.6 L352 915.3 L353 915.3 L354 915.1 L355 915.6 L356 914.8 L357 915.3 L358 914.9 L359 915.3 L360 915.4 L361 914.8 L362 914.8 L363 914.7 L364 914.9 L365 914.7 L366 915 L367 915.6 L368 915 L369 914.9 L370 915.1 L371 914.9 L372 915.3 L373 915.3 L374 914.8 L375 914.8 L376 915.3 L377 915.5 L378 915.2 L379 915 L380 915.6 L381 914.6 L382 914.7 L383 915.4 L384 915 L385 914.6 L386 915.1 L387 915.6 L388 915.1 L389 915 L390 914.7 L391 914.7 L392 915.5 L393 915.1 L394 915.5 L395 914.7 L396 914.8 L397 914.7 L398 915 L399 914.7 L400 914.9 L401 915 L402 914.9 L403 914.7 L404 914.6 L405 915.6 L406 914.8 L407 915.1 L408 915 L409 915.1 L410 914.7 L411 914.9 L412 914.7" fill="none" stroke="#d4146e" stroke-width="1.7" stroke-linejoin="round"/>
<path d="M173.3 1013.6 l1.8 3.6 h-3.6z" fill="#d4146e"/>
<path d="M412.6 947.3 l3.4 -1.9 v3.8z" fill="#d4146e"/>
</svg>
<div class="t" style="left:36px;top:44.8px;">CH1</div>
<div class="t" style="left:36px;top:153.8px;">CH2</div>
<div class="t" style="left:31.5px;top:231.4px;">CH1 Vout: 500 mV/div</div>
<div class="t" style="left:31.5px;top:246.1px;">CH2  Iout: 20 A/div</div>
<div class="t r" style="right:32px;top:231.4px;">Timebase: 5 µs/div</div>
</div>
<div class="panel" style="left:473px;top:786px;width:412px;height:270px">
<svg width="410" height="268" viewBox="474 787 410 268">
<g stroke-width="1" fill="none"><line x1="506.5" y1="794.5" x2="506.5" y2="1012.5" stroke="#cecece"/><line x1="541.5" y1="794.5" x2="541.5" y2="1012.5" stroke="#f3f3f3"/><line x1="575.5" y1="794.5" x2="575.5" y2="1012.5" stroke="#dedede"/><line x1="610.5" y1="794.5" x2="610.5" y2="1012.5" stroke="#dedede"/><line x1="644.5" y1="794.5" x2="644.5" y2="1012.5" stroke="#f3f3f3"/><line x1="679.5" y1="794.5" x2="679.5" y2="1012.5" stroke="#b6b6b6"/><line x1="713.5" y1="794.5" x2="713.5" y2="1012.5" stroke="#f3f3f3"/><line x1="748.5" y1="794.5" x2="748.5" y2="1012.5" stroke="#f3f3f3"/><line x1="782.5" y1="794.5" x2="782.5" y2="1012.5" stroke="#dedede"/><line x1="817.5" y1="794.5" x2="817.5" y2="1012.5" stroke="#f3f3f3"/><line x1="851.5" y1="794.5" x2="851.5" y2="1012.5" stroke="#cecece"/><line x1="506.5" y1="794.5" x2="851.5" y2="794.5" stroke="#efefef"/><line x1="506.5" y1="822.5" x2="851.5" y2="822.5" stroke="#e0e0e0"/><line x1="506.5" y1="849.5" x2="851.5" y2="849.5" stroke="#f1f1f1"/><line x1="506.5" y1="876.5" x2="851.5" y2="876.5" stroke="#e0e0e0"/><line x1="506.5" y1="904.5" x2="851.5" y2="904.5" stroke="#acacac"/><line x1="506.5" y1="931.5" x2="851.5" y2="931.5" stroke="#f1f1f1"/><line x1="506.5" y1="958.5" x2="851.5" y2="958.5" stroke="#e0e0e0"/><line x1="506.5" y1="985.5" x2="851.5" y2="985.5" stroke="#f1f1f1"/><line x1="506.5" y1="1012.5" x2="851.5" y2="1012.5" stroke="#e0e0e0"/><line x1="546.5" y1="835.5" x2="845.5" y2="835.5" stroke="#f2f2f2" stroke-dasharray="3 3"/><line x1="512.5" y1="971.5" x2="845.5" y2="971.5" stroke="#f2f2f2" stroke-dasharray="3 3"/><line x1="679.5" y1="794.5" x2="679.5" y2="1012.5" stroke="#c8c8c8" stroke-width="2.2" stroke-dasharray="0.8 4.7"/><line x1="506.5" y1="904.5" x2="851.5" y2="904.5" stroke="#c4c4c4" stroke-width="2.2" stroke-dasharray="0.8 6.1"/></g>
<path d="M506.5 860.7 L507.8 869 L509.1 860.2 L510.3 868 L511.6 859.3 L512.9 868.7 L514.2 860.1 L515.5 868.9 L516.7 860 L518 868.9 L519.3 859.8 L520.6 868.9 L521.9 860.6 L523.1 868.2 L524.4 860.3 L525.7 868.7 L527 859.6 L528.3 868.5 L529.5 860.7 L530.8 868 L532.1 860.7 L533.4 868.7 L534.7 860.8 L535.9 868.1 L537.2 859.5 L538.5 868.9 L539.8 860.7 L541.1 868.3 L542.3 859.5 L543.6 867.9 L544.9 860.4 L546.2 868 L547.5 861 L548.7 868.6 L550 859.7 L551.3 868.7 L552.6 859.9 L553.9 869.2 L555.1 860.9 L556.4 868.4 L557.7 860.5 L559 868.8 L560.3 860.7 L561.5 869.3 L562.8 859.4 L564.1 868.2 L565.4 860.4 L566.7 868 L567.9 860.4 L569.2 867.7 L570.5 860.9 L571.8 868.4 L573.1 859.5 L574.3 868.7 L575.6 859.9 L576.9 867.9 L578.2 860.2 L579.5 867.7 L580.7 859.7 L582 869.1 L583.3 860.6 L584.6 867.5 L585.9 860.7 L587.1 867.5 L588.4 859.9 L589.7 869.1 L591 860.4 L592.3 868.1 L593.5 860 L594.8 868.2 L596.1 859.5 L597.4 869.3 L598.7 859.4 L599.9 868.3 L601.2 860.6 L602.5 868.2 L603.8 861.1 L605.1 867.9 L606.3 861.1 L607.6 869.1 L608.9 860.5 L610.2 869.1" fill="none" stroke="#b7c43c" stroke-width="0.9" stroke-linejoin="round" opacity="0.85"/>
<path d="M609.8 864.4 L611 858 L612.5 848 L613 845.7 L613.4 844.9 L613.8 844.9 L614.3 845.4 L614.7 845.8 L615.1 845.3 L615.5 844.2 L615.9 842.7 L616.4 841.6 L616.8 841.1 L617.2 841.5 L617.6 842.1 L618 842.3 L618.5 841.9 L618.9 840.7 L619.3 839.3 L619.7 838.2 L620.1 837.8 L620.6 838.2 L621 839 L621.4 839.5 L621.8 839.2 L622.2 838.2 L622.7 836.8 L623.1 835.7 L623.5 835.5 L623.9 836.1 L624.3 837 L624.8 837.7 L625.2 837.8 L625.6 837 L626 835.9 L626.4 834.9 L626.9 834.6 L627.3 835.1 L627.7 836.1 L628.1 837 L628.5 837.2 L629 836.7 L629.4 835.7 L629.8 834.8 L630.2 834.5 L630.6 835.1 L631.1 836.1 L631.5 837.1 L631.9 837.4 L632.3 837 L632.7 836 L633.2 835.1 L633.6 834.8 L634 835.4 L634.4 836.4 L634.8 837.4 L635.3 837.9 L635.7 837.5 L636.1 836.6 L636.5 835.7 L636.9 835.3 L637.4 835.8 L637.8 836.8 L638.2 837.9 L638.6 838.5 L639 838.2 L639.5 837.3 L639.9 836.4 L640.3 836 L640.7 836.4 L641.1 837.4 L641.6 838.5 L642 839.1 L642.4 838.9 L642.8 838.1 L643.2 837.1 L643.7 836.7 L644.1 837 L644.5 838 L644.9 839.1 L645.3 839.7 L645.8 839.6 L646.2 838.8 L646.6 837.9 L647 837.3 L647.4 837.5 L647.9 838.4 L648.3 839.5 L648.7 840.3 L649.1 840.2 L649.5 839.4 L650 838.4 L650.4 837.8 L650.8 837.9 L651.2 838.8 L651.6 839.9 L652.1 840.6 L652.5 840.6 L652.9 839.9 L653.3 838.9 L653.7 838.2 L654.2 838.3 L654.6 839.1 L655 840.2 L655.4 841 L655.8 841.1 L656.3 840.4 L656.7 839.4 L657.1 838.7 L657.5 838.7 L657.9 839.4 L658.4 840.5 L658.8 841.4 L659.2 841.6 L659.6 841 L660 840 L660.5 839.2 L660.9 839.1 L661.3 839.8 L661.7 840.9 L662.1 841.8 L662.6 842.1 L663 841.5 L663.4 840.6 L663.8 839.7 L664.2 839.6 L664.7 840.2 L665.1 841.3 L665.5 842.2 L665.9 842.6 L666.3 842.1 L666.8 841.2 L667.2 840.3 L667.6 840 L668 840.6 L668.4 841.6 L668.9 842.6 L669.3 843 L669.7 842.6 L670.1 841.7 L670.5 840.8 L671 840.4 L671.4 840.9 L671.8 842 L672.2 843 L672.6 843.5 L673.1 843.1 L673.5 842.2 L673.9 841.3 L674.3 840.9 L674.7 841.3 L675.2 842.3 L675.6 843.3 L676 843.9 L676.4 843.6 L676.8 842.8 L677.3 841.8 L677.7 841.3 L678.1 841.6 L678.5 842.6 L678.9 843.7 L679.4 844.3 L679.8 844.1 L680.2 843.3 L680.6 842.3 L681 841.8 L681.5 842 L681.9 842.9 L682.3 844 L682.7 844.7 L683.1 844.6 L683.6 843.8 L684 842.8 L684.4 842.2 L684.8 842.3 L685.2 843.2 L685.7 844.3 L686.1 845 L686.5 845 L686.9 844.3 L687.3 843.3 L687.8 842.6 L688.2 842.7 L688.6 843.5 L689 844.6 L689.4 845.4 L689.9 845.4 L690.3 844.8 L690.7 843.7 L691.1 843 L691.5 843 L692 843.8 L692.4 844.9 L692.8 845.7 L693.2 845.8 L693.6 845.2 L694.1 844.2 L694.5 843.4 L694.9 843.3 L695.3 844 L695.7 845.1 L696.2 846 L696.6 846.2 L697 845.6 L697.4 844.6 L697.8 843.8 L698.3 843.6 L698.7 844.2 L699.1 845.3 L699.5 846.2 L699.9 846.5 L700.4 846 L700.8 845 L701.2 844.1 L701.6 843.9 L702 844.4 L702.5 845.5 L702.9 846.5 L703.3 846.8 L703.7 846.4 L704.1 845.4 L704.6 844.5 L705 844.2 L705.4 844.7 L705.8 845.7 L706.2 846.7 L706.7 847.1 L707.1 846.8 L707.5 845.8 L707.9 844.9 L708.3 844.5 L708.8 844.9 L709.2 845.9 L709.6 846.9 L710 847.4 L710.4 847.1 L710.9 846.2 L711.3 845.2 L711.7 844.8 L712.1 845.1 L712.5 846.1 L713 847.2 L713.4 847.7 L713.8 847.5 L714.2 846.6 L714.6 845.6 L715.1 845.1 L715.5 845.3 L715.9 846.2 L716.3 847.3 L716.7 847.9 L717.2 847.7 L717.6 846.9 L718 845.9 L718.4 845.3 L718.8 845.4 L719.3 846.3 L719.7 847.4 L720.1 848.1 L720.5 848 L720.9 847.2 L721.4 846.1 L721.8 845.5 L722.2 845.6 L722.6 846.4 L723 847.5 L723.5 848.2 L723.9 848.2 L724.3 847.4 L724.7 846.4 L725.1 845.7 L725.6 845.7 L726 846.5 L726.4 847.6 L726.8 848.3 L727.2 848.4 L727.7 847.7 L728.1 846.7 L728.5 845.9 L728.9 845.9 L729.3 846.6 L729.8 847.6 L730.2 848.5 L730.6 848.6 L731 848 L731.4 847 L731.9 846.1 L732.3 846 L732.7 846.6 L733.1 847.7 L733.5 848.6 L734 848.8 L734.4 848.2 L734.8 847.2 L735.2 846.4 L735.6 846.1 L736.1 846.7 L736.5 847.7 L736.9 848.7 L737.3 848.9 L737.7 848.4 L738.2 847.4 L738.6 846.5 L739 846.2 L739.4 846.7 L739.8 847.7 L740.3 848.6 L740.7 849 L741.1 848.6 L741.5 847.6 L741.9 846.6 L742.4 846.2 L742.8 846.7 L743.2 847.6 L743.6 848.6 L744 849.1 L744.5 848.7 L744.9 847.7 L745.3 846.7 L745.7 846.3 L746.1 846.7 L746.6 847.6 L747 848.6 L747.4 849.1 L747.8 848.8 L748.2 847.9 L748.7 846.9 L749.1 846.4 L749.5 846.6 L749.9 847.6 L750.3 848.6 L750.8 849.2 L751.2 848.9 L751.6 848.1 L752 847 L752.4 846.4 L752.9 846.6 L753.3 847.5 L753.7 848.6 L754.1 849.2 L754.5 849.1 L755 848.2 L755.4 847.2 L755.8 846.5 L756.2 846.7 L756.6 847.5 L757.1 848.5 L757.5 849.2 L757.9 849.2 L758.3 848.4 L758.7 847.3 L759.2 846.6 L759.6 846.6 L760 847.4 L760.4 848.5 L760.8 849.2 L761.3 849.2 L761.7 848.4 L762.1 847.4 L762.5 846.6 L762.9 846.6 L763.4 847.3 L763.8 848.4 L764.2 849.1 L764.6 849.2 L765 848.5 L765.5 847.5 L765.9 846.7 L766.3 846.5 L766.7 847.2 L767.1 848.2 L767.6 849.1 L768 849.2 L768.4 848.6 L768.8 847.6 L769.2 846.7 L769.7 846.5 L770.1 847.1 L770.5 848.1 L770.9 849 L771.3 849.3 L771.8 848.7 L772.2 847.7 L772.6 846.8 L773 846.5 L773.4 847 L773.9 848 L774.3 849 L774.7 849.3 L775.1 848.8 L775.5 847.8 L776 846.8 L776.4 846.5 L776.8 846.9 L777.2 847.9 L777.6 848.9 L778.1 849.3 L778.5 848.9 L778.9 847.9 L779.3 846.9 L779.7 846.5 L780.2 846.9 L780.6 847.8 L781 848.8 L781.4 849.3 L781.8 848.9 L782.3 848 L782.7 847 L783.1 846.5 L783.5 846.8 L783.9 847.7 L784.4 848.7 L784.8 849.3 L785.2 849 L785.6 848.1 L786 847 L786.5 846.5 L786.9 846.7 L787.3 847.6 L787.7 848.6 L788.1 849.2 L788.6 849 L789 848.2 L789.4 847.1 L789.8 846.5 L790.2 846.7 L790.7 847.5 L791.1 848.6 L791.5 849.2 L791.9 849.1 L792.3 848.3 L792.8 847.2 L793.2 846.5 L793.6 846.6 L794 847.4 L794.4 848.5 L794.9 849.2 L795.3 849.1 L795.7 848.4 L796.1 847.3 L796.5 846.6 L797 846.6 L797.4 847.3 L797.8 848.4 L798.2 849.1 L798.6 849.2 L799.1 848.5 L799.5 847.4 L799.9 846.6 L800.3 846.5 L800.7 847.2 L801.2 848.3 L801.6 849.1 L802 849.2 L802.4 848.5 L802.8 847.5 L803.3 846.6 L803.7 846.5 L804.1 847.1 L804.5 848.2 L804.9 849 L805.4 849.2 L805.8 848.6 L806.2 847.6 L806.6 846.7 L807 846.5 L807.5 847 L807.9 848.1 L808.3 849 L808.7 849.2 L809.1 848.7 L809.6 847.7 L810 846.8 L810.4 846.5 L810.8 846.9 L811.2 847.9 L811.7 848.9 L812.1 849.2 L812.5 848.8 L812.9 847.8 L813.3 846.8 L813.8 846.4 L814.2 846.9 L814.6 847.8 L815 848.8 L815.4 849.2 L815.9 848.9 L816.3 847.9 L816.7 846.9 L817.1 846.4 L817.5 846.8 L818 847.7 L818.4 848.7 L818.8 849.2 L819.2 848.9 L819.6 848 L820.1 847 L820.5 846.4 L820.9 846.7 L821.3 847.6 L821.7 848.7 L822.2 849.2 L822.6 849 L823 848.1 L823.4 847.1 L823.8 846.5 L824.3 846.7 L824.7 847.5 L825.1 848.6 L825.5 849.2 L825.9 849 L826.4 848.2 L826.8 847.1 L827.2 846.5 L827.6 846.6 L828 847.4 L828.5 848.5 L828.9 849.2 L829.3 849.1 L829.7 848.3 L830.1 847.2 L830.6 846.5 L831 846.5 L831.4 847.3 L831.8 848.4 L832.2 849.1 L832.7 849.1 L833.1 848.4 L833.5 847.3 L833.9 846.5 L834.3 846.5 L834.8 847.2 L835.2 848.3 L835.6 849.1 L836 849.1 L836.4 848.5 L836.9 847.4 L837.3 846.6 L837.7 846.5 L838.1 847.1 L838.5 848.2 L839 849 L839.4 849.2 L839.8 848.6 L840.2 847.5 L840.6 846.6 L841.1 846.4 L841.5 847 L841.9 848.1 L842.3 849 L842.7 849.2 L843.2 848.6 L843.6 847.6 L844 846.7 L844.4 846.4 L844.8 846.9 L845.3 848 L845.7 848.9 L846.1 849.2 L846.5 848.7 L846.9 847.7 L847.4 846.8 L847.8 846.4 L848.2 846.9 L848.6 847.9 L849 848.8 L849.5 849.2 L849.9 848.8 L850.3 847.8 L850.7 846.8 L851.1 846.4" fill="none" stroke="#b7c43c" stroke-width="1.5" stroke-linejoin="round"/>
<path d="M506.5 915.3 L507.5 915.7 L508.5 915.7 L509.5 915.4 L510.5 915.4 L511.5 915.6 L512.5 915.3 L513.5 915 L514.5 915.6 L515.5 915.2 L516.5 915.4 L517.5 915.7 L518.5 915.1 L519.5 914.9 L520.5 915 L521.5 915.5 L522.5 915.3 L523.5 915.2 L524.5 915.4 L525.5 915.8 L526.5 915.2 L527.5 915.3 L528.5 915.8 L529.5 915.5 L530.5 915.2 L531.5 915.4 L532.5 915.4 L533.5 915 L534.5 915.3 L535.5 915.2 L536.5 915.7 L537.5 915.2 L538.5 915.6 L539.5 915.9 L540.5 915.8 L541.5 915.3 L542.5 915.5 L543.5 915.2 L544.5 915.3 L545.5 915.4 L546.5 915.7 L547.5 915.8 L548.5 915.2 L549.5 914.9 L550.5 915.3 L551.5 915 L552.5 914.9 L553.5 915.7 L554.5 915 L555.5 915.6 L556.5 915.3 L557.5 915.8 L558.5 915.8 L559.5 915 L560.5 915.1 L561.5 915.8 L562.5 915.5 L563.5 915.3 L564.5 915.7 L565.5 915.7 L566.5 915.4 L567.5 915.4 L568.5 915 L569.5 915.3 L570.5 915 L571.5 915.5 L572.5 915.5 L573.5 915 L574.5 915.5 L575.5 915 L576.5 915 L577.5 915.5 L578.5 915.4 L579.5 915.8 L580.5 915.5 L581.5 915.6 L582.5 915 L583.5 915.7 L584.5 915 L585.5 915.5 L586.5 915.8 L587.5 915.8 L588.5 915.8 L589.5 915.4 L590.5 915.6 L591.5 915.7 L592.5 915 L593.5 915.8 L594.5 915.8 L595.5 915.3 L596.5 915.7 L597.5 915.3 L598.5 915.2 L599.5 915.6 L600.5 915 L601.5 915.7 L602.5 915.9 L603.5 915.2 L604.5 915.8 L605.5 915 L606.5 915.8 L607.5 915.2 L608.5 915.9 L609.5 915.3" fill="none" stroke="#d4146e" stroke-width="1.4" stroke-linejoin="round"/>
<path d="M609.5 915.4 L610.6 917.5 L611.6 930 L612.6 950 L614 956.4 L615.6 957.6" fill="none" stroke="#d4146e" stroke-width="1" opacity="0.9"/>
<path d="M615.5 957.9 L616.5 957.2 L617.5 957.3 L618.5 957.9 L619.5 957.7 L620.5 957.6 L621.5 957.2 L622.5 957.3 L623.5 957.5 L624.5 957.2 L625.5 958 L626.5 957.8 L627.5 958 L628.5 957.8 L629.5 957.5 L630.5 957.3 L631.5 957.8 L632.5 957.3 L633.5 957.6 L634.5 957.6 L635.5 957.6 L636.5 957.3 L637.5 957.3 L638.5 957.6 L639.5 957.2 L640.5 957.6 L641.5 957.3 L642.5 957.4 L643.5 957.3 L644.5 957.7 L645.5 957.5 L646.5 957.4 L647.5 957.4 L648.5 957.7 L649.5 957.9 L650.5 957.5 L651.5 957.3 L652.5 957.5 L653.5 957.4 L654.5 957.7 L655.5 957.8 L656.5 957.7 L657.5 957.4 L658.5 957.5 L659.5 957.5 L660.5 957.6 L661.5 957.5 L662.5 958 L663.5 957.6 L664.5 957.7 L665.5 957.8 L666.5 957.7 L667.5 957.8 L668.5 957.5 L669.5 957.7 L670.5 958 L671.5 957.3 L672.5 957.7 L673.5 957.5 L674.5 957.2 L675.5 957.2 L676.5 957.8 L677.5 957.3 L678.5 957.8 L679.5 957.3 L680.5 957.5 L681.5 957.2 L682.5 957.6 L683.5 957.8 L684.5 957.4 L685.5 957.7 L686.5 957.9 L687.5 957.4 L688.5 957.6 L689.5 957.8 L690.5 957.9 L691.5 957.3 L692.5 957.7 L693.5 957.3 L694.5 957.3 L695.5 958 L696.5 957.2 L697.5 957.9 L698.5 957.8 L699.5 957.7 L700.5 957.8 L701.5 957.7 L702.5 957.4 L703.5 957.6 L704.5 957.4 L705.5 957.9 L706.5 957.8 L707.5 957.8 L708.5 957.4 L709.5 957.7 L710.5 957.4 L711.5 957.8 L712.5 957.8 L713.5 958 L714.5 957.8 L715.5 957.7 L716.5 957.8 L717.5 957.3 L718.5 957.7 L719.5 957.2 L720.5 957.5 L721.5 957.3 L722.5 958 L723.5 957.2 L724.5 957.9 L725.5 958 L726.5 957.5 L727.5 957.9 L728.5 957.2 L729.5 957.3 L730.5 957.2 L731.5 957.3 L732.5 957.2 L733.5 957.9 L734.5 957.3 L735.5 957.7 L736.5 957.4 L737.5 957.3 L738.5 957.5 L739.5 957.3 L740.5 958 L741.5 957.5 L742.5 957.7 L743.5 957.7 L744.5 957.7 L745.5 957.6 L746.5 957.4 L747.5 957.3 L748.5 957.9 L749.5 957.4 L750.5 957.6 L751.5 957.8 L752.5 957.7 L753.5 958 L754.5 957.8 L755.5 957.6 L756.5 957.3 L757.5 957.7 L758.5 957.6 L759.5 957.9 L760.5 957.6 L761.5 957.8 L762.5 957.8 L763.5 957.6 L764.5 957.9 L765.5 957.9 L766.5 957.3 L767.5 957.9 L768.5 957.9 L769.5 957.9 L770.5 957.5 L771.5 957.4 L772.5 957.3 L773.5 957.5 L774.5 957.9 L775.5 957.5 L776.5 957.2 L777.5 957.4 L778.5 957.3 L779.5 957.7 L780.5 957.8 L781.5 957.9 L782.5 957.3 L783.5 957.5 L784.5 957.3 L785.5 957.9 L786.5 957.9 L787.5 957.6 L788.5 958 L789.5 957.6 L790.5 957.8 L791.5 957.6 L792.5 957.5 L793.5 958 L794.5 957.9 L795.5 957.7 L796.5 957.9 L797.5 957.7 L798.5 957.8 L799.5 957.3 L800.5 957.3 L801.5 957.3 L802.5 957.7 L803.5 957.8 L804.5 957.3 L805.5 957.6 L806.5 957.3 L807.5 957.8 L808.5 957.8 L809.5 957.3 L810.5 958 L811.5 957.7 L812.5 957.3 L813.5 957.5 L814.5 957.3 L815.5 957.8 L816.5 957.9 L817.5 957.3 L818.5 957.3 L819.5 957.7 L820.5 957.9 L821.5 957.8 L822.5 957.6 L823.5 957.3 L824.5 957.7 L825.5 957.6 L826.5 957.8 L827.5 957.7 L828.5 957.8 L829.5 958 L830.5 957.7 L831.5 957.9 L832.5 957.4 L833.5 957.2 L834.5 957.9 L835.5 957.2 L836.5 958 L837.5 957.6 L838.5 957.2 L839.5 957.4 L840.5 957.8 L841.5 957.5 L842.5 957.7 L843.5 957.3 L844.5 957.9 L845.5 957.5 L846.5 957.9 L847.5 957.3 L848.5 957.7 L849.5 957.6 L850.5 957.5 L851.5 957.2" fill="none" stroke="#d4146e" stroke-width="2.4" stroke-linejoin="round"/>
<path d="M613.1 1013.6 l1.8 3.6 h-3.6z" fill="#d4146e"/>
<path d="M852.4 947.3 l3.4 -1.9 v3.8z" fill="#d4146e"/>
</svg>
<div class="t" style="left:36.5px;top:48.8px;">CH1</div>
<div class="t" style="left:36.5px;top:109.8px;">CH2</div>
<div class="t" style="left:32.5px;top:229.4px;">CH1 Vout: 500 mV/div</div>
<div class="t" style="left:32.5px;top:244.1px;">CH2  Iout: 20 A/div</div>
<div class="t r" style="right:32.5px;top:229.4px;">Timebase: 5 µs/div</div>
</div>
</body>
</html>
